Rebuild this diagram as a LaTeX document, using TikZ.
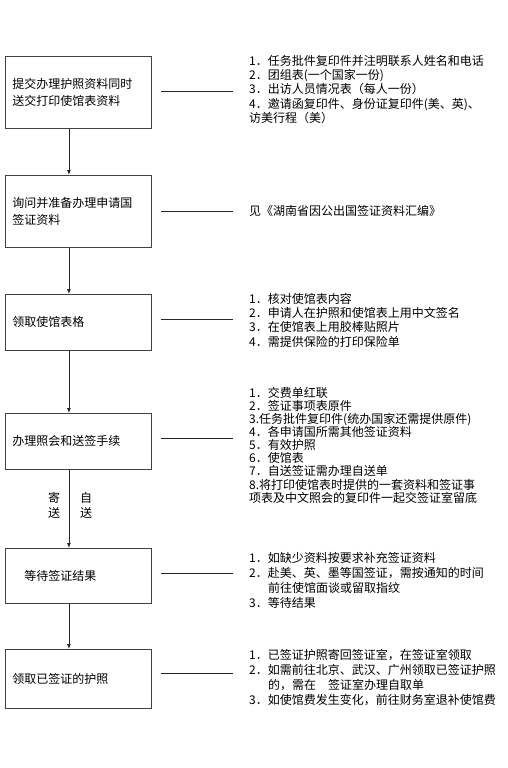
\documentclass[tikz,border=0pt]{standalone}
\usepackage{fontspec}
\setmainfont{Noto Sans CJK SC}
\usetikzlibrary{arrows.meta,positioning}

\tikzset{
  stepbox/.style={draw=black!75,line width=0.8pt,anchor=north west,minimum width=146pt,
    text width=132pt,inner xsep=7pt,align=left,font=\fontsize{12}{17.5}\selectfont},
  notetext/.style={anchor=north west,inner sep=0pt,align=left,font=\fontsize{12}{14.3}\selectfont},
  flow/.style={draw=black!85,line width=0.8pt,-{Latex[length=5pt,width=4pt]}},
  link/.style={draw=black!85,line width=0.8pt},
  side/.style={inner sep=0pt,align=center,font=\fontsize{12}{15}\selectfont}
}

\begin{document}
\begin{tikzpicture}[x=1pt,y=-1pt]
    \useasboundingbox (0,0) rectangle (508,768);
    % Steps
    \node[stepbox,minimum height=72pt] (b1) at (5,56) {提交办理护照资料同时\\送交打印使馆表资料};
    \node[stepbox,minimum height=72pt] (b2) at (5,175) {询问并准备办理申请国\\签证资料};
    \node[stepbox,minimum height=56pt] (b3) at (5,294) {领取使馆表格};
    \node[stepbox,minimum height=56pt] (b4) at (5,413) {办理照会和送签手续};
    \node[stepbox,minimum height=55pt] (b5) at (5,548) {\hspace*{12pt}等待签证结果};
    \node[stepbox,minimum height=59pt] (b6) at (5,649) {领取已签证的护照};
    % Arrows between steps
    \foreach \a/\b in {b1/b2,b2/b3,b3/b4,b4/b5,b5/b6}
      \draw[flow] ([xshift=-9.5pt]\a.south) -- ([xshift=-9.5pt]\b.north);
    \node[side] (post) at (54,505) {寄\\送};
    \node[side] (self) at (86,505) {自\\送};
    % Notes
    \node[notetext] (n1) at (249,55) {1．任务批件复印件并注明联系人姓名和电话\\
      2．团组表(一个国家一份)\\
      3．出访人员情况表（每人一份）\\
      4．邀请函复印件、身份证复印件(美、英)、\\
      访美行程（美）};
    \node[notetext] (n2) at (249,205) {见《湖南省因公出国签证资料汇编》};
    \node[notetext] (n3) at (249,293) {1．核对使馆表内容\\
      2．申请人在护照和使馆表上用中文签名\\
      3．在使馆表上用胶棒贴照片\\
      4．需提供保险的打印保险单};
    \node[notetext,font=\fontsize{12}{13.1}\selectfont] (n4) at (249,387) {1．交费单红联\\
      2．签证事项表原件\\
      3.任务批件复印件(统办国家还需提供原件)\\
      4．各申请国所需其他签证资料\\
      5．有效护照\\
      6．使馆表\\
      7．自送签证需办理自送单\\
      8.将打印使馆表时提供的一套资料和签证事\\
      项表及中文照会的复印件一起交签证室留底};
    \node[notetext,font=\fontsize{12}{15}\selectfont] (n5) at (249,552) {1．如缺少资料按要求补充签证资料\\
      2．赴美、英、墨等国签证，需按通知的时间\\
      \hspace*{19pt}前往使馆面谈或留取指纹\\
      3．等待结果};
    \node[notetext,font=\fontsize{12}{15}\selectfont] (n6) at (249,649) {1．已签证护照寄回签证室，在签证室领取\\
      2．如需前往北京、武汉、广州领取已签证护照\\
      \hspace*{19pt}的，需在\hspace{12pt}签证室办理自取单\\
      3．如使馆费发生变化，前往财务室退补使馆费};
    % Links from steps to notes
    \coordinate (e1) at (233,91);
    \coordinate (e2) at (233,211);
    \coordinate (e3) at (233,319);
    \coordinate (e4) at (233,438);
    \coordinate (e5) at (233,573);
    \coordinate (e6) at (233,673);
    \foreach \i in {1,...,6}
      \draw[link] (b\i.east |- e\i) ++(9pt,0) -- (e\i);
\end{tikzpicture}
\end{document}
